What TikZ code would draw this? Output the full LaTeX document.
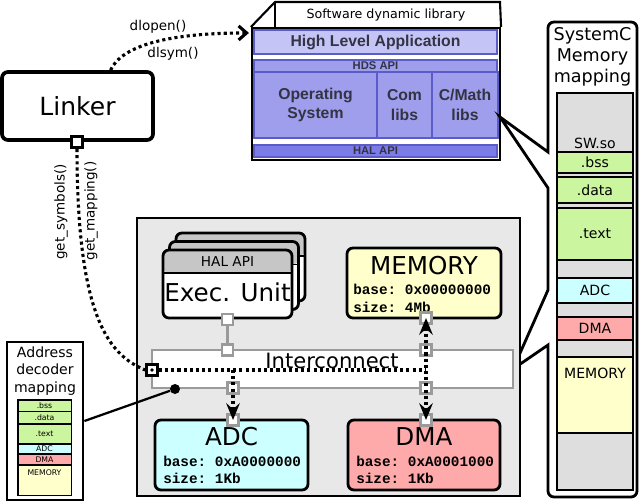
\documentclass[tikz,border=0pt]{standalone}
\usepackage{fontspec}
\setmainfont{DejaVu Sans}
\setmonofont{Liberation Mono}
\newfontfamily\arialfont{Liberation Sans}
\usetikzlibrary{positioning,arrows.meta,calc}
\newcommand{\fsz}[2]{\fontsize{#1}{#2}\selectfont}

\definecolor{platgray}{HTML}{E8E8E8}
\definecolor{colgray}{HTML}{DEDEDE}
\definecolor{halgray}{HTML}{C6C6C6}
\definecolor{portgray}{HTML}{9A9A9A}
\definecolor{secgreen}{HTML}{CCF5A0}
\definecolor{adccyan}{HTML}{CCFFFF}
\definecolor{dmared}{HTML}{FFAAAA}
\definecolor{memyellow}{HTML}{FFFFCC}
\definecolor{libhigh}{HTML}{C4C4F6}
\definecolor{libmid}{HTML}{9E9EEC}
\definecolor{liblow}{HTML}{7C7CE6}
\definecolor{libshade}{HTML}{5C5CC8}
\definecolor{libtext}{HTML}{333344}

\begin{document}
\begin{tikzpicture}[
  x=0.025cm, y=-0.025cm,
  sz/.style 2 args={minimum width=#1*0.025cm, minimum height=#2*0.025cm},
  box/.style={draw=black, line width=2pt, rounded corners=0.15cm, inner sep=0pt},
  portbox/.style={draw=portgray, fill=white, line width=1.6pt, inner sep=0pt, sz={11}{11}},
  blkport/.style={portbox, draw=black, line width=2pt},
  dotline/.style={line width=2.2pt, dash pattern=on 2.2pt off 2.2pt},
  big/.style={font=\fsz{17.5pt}{20pt}},
  mono/.style={font=\ttfamily\bfseries\fsz{10.2pt}{12pt}, anchor=west, inner sep=0pt},
  call/.style={font=\fsz{9.6pt}{11pt}},
  libband/.style={draw=libshade, line width=0.8pt, inner sep=0pt, text=libtext, align=center, font=\arialfont\bfseries\fsz{11.2pt}{14pt}},
  libapi/.style={libband, font=\arialfont\bfseries\fsz{8pt}{9pt}},
  mapseg/.style={draw=black, line width=1.2pt, inner sep=0pt, sz={76}{#1}, font=\fsz{10pt}{12pt}},
  adseg/.style={draw=black, line width=0.7pt, inner sep=0pt, sz={53}{#1}, font=\fsz{5.5pt}{6pt}},
  execbox/.style={box, fill=white, sz={129}{68},
    path picture={\fill[halgray] (path picture bounding box.north west) rectangle ($(path picture bounding box.north east)+(0,23)$);
      \draw[line width=1.2pt] ($(path picture bounding box.north west)+(0,23)$) -- ($(path picture bounding box.north east)+(0,23)$);}},
  head/.style={-{Stealth[length=0.42cm, width=0.34cm, inset=0.15cm]}},
]
\useasboundingbox (0,0) rectangle (640,501);

% === Linker ===
\node[box, line width=2.6pt, fill=white, sz={151}{68}, font=\fsz{17.8pt}{20pt}] (linker) at (77.5,106) {Linker};
\node[blkport] (lport) at (77,142) {};

% === Software dynamic library ===
\node[draw, line width=1.5pt, fill=white, sz={248}{132}] (lib) at (376,94) {};
\draw[line width=1.5pt, fill=white] (lib.north west) -- (275,2) -- (500,2) -- (lib.north east);
\draw[line width=1.2pt] (275,2) -- (275,28);
\node[font=\fsz{9pt}{11pt}] (libtitle) at (386,15) {Software dynamic library};
\node[libband, fill=libhigh, sz={243}{24}] (hla) at (375.5,42) {High Level Application};
\node[libapi, fill=libmid, sz={243}{12}] (hds) at (375.5,66) {HDS API};
\node[libband, fill=libmid, sz={123}{66}] (os) at (315.5,105) {Operating\\System};
\node[libband, fill=libmid, sz={55}{66}] (com) at (404.5,105) {Com\\libs};
\node[libband, fill=libmid, sz={66}{66}] (cmath) at (465,105) {C/Math\\libs};
\node[libapi, fill=liblow, sz={243}{12}] (hal) at (375.5,151) {HAL API};

% === SystemC memory mapping ===
\coordinate (libtip) at (500,117);
\coordinate (ictip) at (513,369);
\draw[line width=2pt, fill=white] (548,60) [rounded corners=0.15cm] -- (548,22) -- (637,22) -- (637,497) -- (548,497) -- (548,420)
  [sharp corners] -- (548,345) -- (ictip) -- (548,290) -- (548,188) -- (libtip) -- (548,152) -- cycle;
\node[align=center, font=\fsz{12.5pt}{15pt}] (maptitle) at (592.5,57) {SystemC\\Memory\\mapping};
\node[draw, fill=colgray, line width=2pt, sz={76}{397}] (col) at (595,291.5) {};
\node[font=\fsz{10pt}{12pt}] (swso) at (595,143) {SW.so};
\node[mapseg=21, fill=secgreen] (mbss) at (595,162.5) {.bss};
\node[mapseg=26, fill=secgreen] (mdata) at (595,190) {.data};
\node[mapseg=52, fill=secgreen] (mtext) at (595,234) {.text};
\node[mapseg=25, fill=adccyan] (madc) at (595,290.5) {ADC};
\node[mapseg=23, fill=dmared] (mdma) at (595,328.5) {DMA};
\node[mapseg=76, fill=memyellow, label={[anchor=north, inner sep=0pt, font=\fsz{10pt}{12pt}, yshift=-0.28cm]north:MEMORY}] (mmem) at (595,395) {};

% === Platform ===
\node[draw, fill=platgray, line width=1.5pt, sz={383}{278}] (plat) at (328.5,357) {};

\foreach \k/\dx/\dy in {2/13/17, 1/6.5/8.5, 0/0/0}
  \node[execbox] (exec\k) at (227.5+\dx, 284-\dy) {};
\node[font=\fsz{9.7pt}{11pt}] (halapi) at (227.5,262) {HAL API};
\node[big] (exectext) at (227.5,292) {Exec. Unit};

\node[box, fill=memyellow, sz={154}{70}] (mem) at (424,283) {};
\node[big] (memtitle) at (424,266) {MEMORY};
\node[mono] (membase) at (353,289) {base: 0x00000000};
\node[mono] (memsize) at (353,307) {size: 4Mb};

\node[box, fill=adccyan, sz={153}{70}] (adc) at (231.5,455) {};
\node[big] (adctitle) at (231.5,437) {ADC};
\node[mono] (adcbase) at (163,461) {base: 0xA0000000};
\node[mono] (adcsize) at (163,478) {size: 1Kb};

\node[box, fill=dmared, sz={152}{70}] (dma) at (424,455) {};
\node[big] (dmatitle) at (424,437) {DMA};
\node[mono] (dmabase) at (356,461) {base: 0xA0001000};
\node[mono] (dmasize) at (356,478) {size: 1Kb};

\node[draw=portgray, fill=white, line width=2pt, sz={361}{38}] (ic) at (332.5,369) {};
\node[font=\fsz{15pt}{17pt}] (ictext) at (332,361) {Interconnect};

% ports
\node[portbox] (eport) at (exec0.south) {};
\node[portbox] (icup1) at (227.5,350) {};
\node[portbox] (mport) at (426,318) {};
\node[portbox] (icup2) at (426,350) {};
\node[portbox] (icdn1) at (233,388) {};
\node[portbox] (icdn2) at (426,388) {};
\node[portbox] (aport) at (233,420) {};
\node[portbox] (dport) at (426,420) {};
\node[blkport] (icport) at (152,370) {};
\fill (icport.center) circle (1.3pt);
\draw[portgray, line width=2pt] (eport) -- (icup1);

% === Linker calls ===
\coordinate (jadc) at (icdn1 |- icport);
\coordinate (jdma) at (mport |- icport);
\draw[dotline] (lport.south) .. controls (77,320) and (110,355) .. (icport.west);
\draw[dotline] (icport.east) -- (jdma);
\draw[dotline, head] (jadc) -- (aport.center);
\draw[dotline, {Stealth[length=0.42cm, width=0.34cm, inset=0.15cm]}-{Stealth[length=0.42cm, width=0.34cm, inset=0.15cm]}] (mport.center) -- (dport.center);
\node[rotate=90, call] (getsym) at (61,212) {get\_symbols()};
\node[rotate=90, call] (getmap) at (91,211) {get\_mapping()};

\draw[dotline, -{Straight Barb[length=0.2cm, width=0.35cm]}] ([xshift=0.825cm]linker.north) .. controls (122,45) and (170,33) .. ([xshift=-0.05cm, yshift=-0.15cm]lib.north west);
\node[call] (dlopen) at (158,27) {dlopen()};
\node[call] (dlsym) at (173,54) {dlsym()};

% === Address decoder mapping ===
\node[draw, fill=white, line width=2pt, sz={76}{158}] (adm) at (45,421) {};
\node[align=center, font=\fsz{10pt}{12.4pt}] (admtitle) at (45,371) {Address\\decoder\\mapping};
\node[adseg=11, fill=secgreen] (abss) at (44.5,405.5) {.bss};
\node[adseg=11.5, fill=secgreen] (adata) at (44.5,417.5) {.data};
\node[adseg=19.3, fill=secgreen] (atext) at (44.5,433.7) {.text};
\node[adseg=9.3, fill=adccyan] (aadc) at (44.5,448.7) {ADC};
\node[adseg=9.7, fill=dmared] (adma) at (44.5,459.2) {DMA};
\node[adseg=30, fill=memyellow, label={[anchor=north, inner sep=0pt, font=\fsz{5.5pt}{6pt}, yshift=-0.12cm]north:MEMORY}] (amem) at (44.5,480) {};
\draw[line width=1.4pt] (abss.north west) rectangle (amem.south east);
\node[circle, fill=black, inner sep=0pt, minimum size=0.25cm] (adpin) at (175,389) {};
\draw[line width=1.6pt] (adm.east) -- (adpin);

\end{tikzpicture}
\end{document}
